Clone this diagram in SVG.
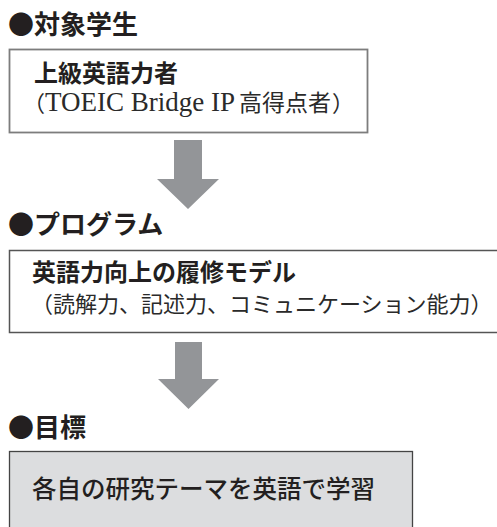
<svg xmlns="http://www.w3.org/2000/svg" width="497" height="527" viewBox="0 0 497 527">
<style>
.h{font-family:"Noto Sans CJK JP","Noto Sans",sans-serif;font-weight:700;font-size:26px;fill:#231f20}
.t{font-family:"Noto Sans CJK JP","Noto Sans",sans-serif;font-weight:700;font-size:24px;fill:#231f20}
.g{font-family:"Noto Sans CJK JP","Noto Sans",sans-serif;font-weight:500;font-size:24.5px;fill:#231f20}
.s{font-family:"Liberation Serif","Noto Sans CJK JP",serif;font-size:27px;fill:#2a2a2a}
.sj{font-family:"Noto Sans CJK JP",sans-serif;font-weight:400;font-size:22px;fill:#2a2a2a}
.sj23{font-family:"Noto Sans CJK JP",sans-serif;font-weight:400;font-size:23px;fill:#2a2a2a}
.arrow{fill:#939598}
</style>
<text class="h" x="8" y="34">●対象学生</text>
<g id="node-student">
<rect x="9.5" y="49.5" width="358" height="83" fill="#ffffff" stroke="#7d7d7d" stroke-width="1.8"/>
<text class="t" x="34" y="81.5">上級英語力者</text>
<text y="111"><tspan class="sj" x="23">（</tspan><tspan class="s" x="45">TOEIC Bridge IP</tspan><tspan class="sj23" x="239">高得点者</tspan><tspan class="sj" x="332">）</tspan></text>
</g>
<text class="h" x="8" y="234">●プログラム</text>
<g id="node-program">
<rect x="9.5" y="250.5" width="500" height="82" fill="#ffffff" stroke="#555555" stroke-width="1.5"/>
<text class="t" x="32" y="281">英語力向上の履修モデル</text>
<text class="sj" x="31" y="312">（読解力、記述力、コミュニケーション能力）</text>
</g>
<text class="h" x="8" y="436.5">●目標</text>
<g id="node-goal">
<rect x="9.5" y="451.5" width="403" height="90" fill="#dcdddf" stroke="#444444" stroke-width="1.3"/>
<text class="g" x="32" y="498">各自の研究テーマを英語で学習</text>
</g>
<g id="connectors">
<polygon class="arrow" points="174,140 202,140 202,179 219,179 188,209 157,179 174,179"/>
<polygon class="arrow" points="175,342 202,342 202,379 219,379 188.5,409 158,379 175,379"/>
</g>
</svg>
